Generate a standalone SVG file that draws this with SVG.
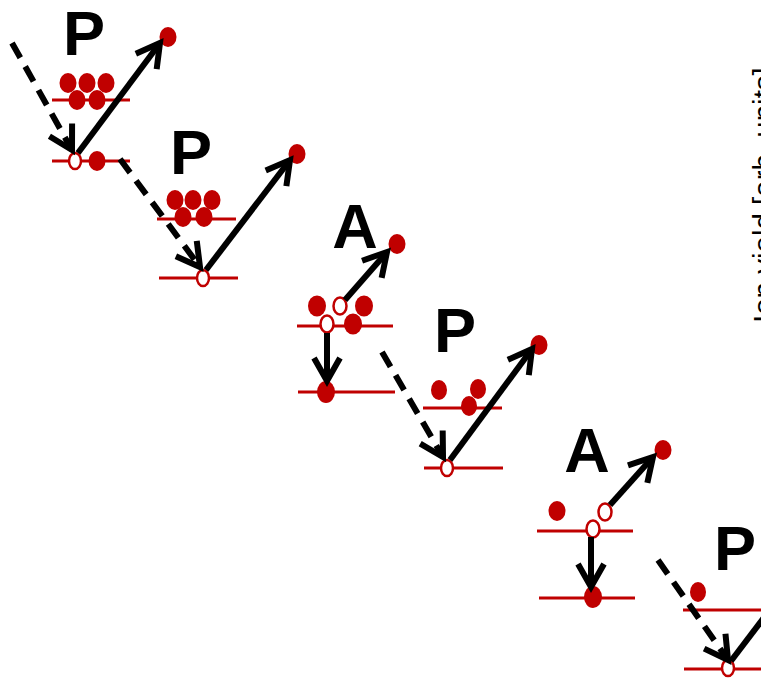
<svg xmlns="http://www.w3.org/2000/svg" width="761" height="680" viewBox="0 0 761 680">
<style>
.lvl{stroke:#c00000;stroke-width:3;fill:none}
.dot{fill:#c00000}
.hole{fill:#ffffff;stroke:#c00000;stroke-width:2.5}
.lbl{font-family:"Liberation Sans",Arial,sans-serif;font-weight:bold;font-size:63px;fill:#000;text-anchor:middle}
.arr{stroke:#000;stroke-width:6;fill:none;marker-end:url(#head)}
.dash{stroke:#000;stroke-width:6;fill:none;stroke-dasharray:17 10;marker-end:url(#head)}
.axis{font-family:"Liberation Sans",Arial,sans-serif;font-size:29.5px;fill:#000}
</style>
<defs>
<marker id="head" markerUnits="userSpaceOnUse" orient="auto" refX="0" refY="0" markerWidth="60" markerHeight="60" viewBox="-30 -30 60 60" overflow="visible">
<path d="M -23 -13 L 0 0 L -23 13" fill="none" stroke="#000" stroke-width="6" stroke-dasharray="none" stroke-linejoin="miter"/>
</marker>
</defs>
<rect width="761" height="680" fill="#ffffff"/>

<g id="step1">
<text class="lbl" x="84" y="55">P</text>
<line class="lvl" x1="52" y1="100" x2="130" y2="100"/>
<line class="lvl" x1="52" y1="161" x2="130" y2="161"/>
<ellipse class="dot" cx="68" cy="83" rx="8.5" ry="10"/>
<ellipse class="dot" cx="87" cy="83" rx="8.5" ry="10"/>
<ellipse class="dot" cx="106" cy="83" rx="8.5" ry="10"/>
<ellipse class="dot" cx="77" cy="100" rx="8.5" ry="10"/>
<ellipse class="dot" cx="97" cy="100" rx="8.5" ry="10"/>
<ellipse class="hole" cx="75" cy="161" rx="6" ry="8"/>
<ellipse class="dot" cx="97" cy="161" rx="8.5" ry="10"/>
<ellipse class="dot" cx="168" cy="37" rx="8.5" ry="10"/>
</g>

<g id="step2">
<text class="lbl" x="191" y="174">P</text>
<line class="lvl" x1="157" y1="219" x2="236" y2="219"/>
<line class="lvl" x1="159" y1="278" x2="238" y2="278"/>
<ellipse class="dot" cx="175" cy="200" rx="8.5" ry="10"/>
<ellipse class="dot" cx="193" cy="200" rx="8.5" ry="10"/>
<ellipse class="dot" cx="212" cy="200" rx="8.5" ry="10"/>
<ellipse class="dot" cx="183" cy="217" rx="8.5" ry="10"/>
<ellipse class="dot" cx="204" cy="217" rx="8.5" ry="10"/>
<ellipse class="hole" cx="203" cy="278" rx="6" ry="8"/>
<ellipse class="dot" cx="297" cy="154" rx="8.5" ry="10"/>
</g>

<g id="step3">
<text class="lbl" x="355" y="248">A</text>
<line class="lvl" x1="297" y1="326" x2="393" y2="326"/>
<line class="lvl" x1="298" y1="392" x2="395" y2="392"/>
<ellipse class="dot" cx="317" cy="306" rx="9" ry="10.5"/>
<ellipse class="dot" cx="364" cy="306" rx="9" ry="10.5"/>
<ellipse class="dot" cx="353" cy="324" rx="9" ry="10.5"/>
<ellipse class="hole" cx="340" cy="306" rx="6.5" ry="8.5"/>
<ellipse class="hole" cx="327" cy="324" rx="6.5" ry="8.5"/>
<ellipse class="dot" cx="326" cy="392" rx="9" ry="11"/>
<ellipse class="dot" cx="397" cy="244" rx="8.5" ry="10"/>
</g>

<g id="step4">
<text class="lbl" x="455" y="352">P</text>
<line class="lvl" x1="423" y1="408" x2="502" y2="408"/>
<line class="lvl" x1="424" y1="468" x2="503" y2="468"/>
<ellipse class="dot" cx="439" cy="390" rx="8" ry="10"/>
<ellipse class="dot" cx="478" cy="389" rx="8" ry="10"/>
<ellipse class="dot" cx="469" cy="406" rx="8" ry="10"/>
<ellipse class="hole" cx="447" cy="468" rx="6" ry="8"/>
<ellipse class="dot" cx="539" cy="345" rx="8.5" ry="10"/>
</g>

<g id="step5">
<text class="lbl" x="587" y="472">A</text>
<line class="lvl" x1="537" y1="531" x2="633" y2="531"/>
<line class="lvl" x1="539" y1="598" x2="635" y2="598"/>
<ellipse class="dot" cx="557" cy="511" rx="8.5" ry="10"/>
<ellipse class="hole" cx="605" cy="512" rx="6.5" ry="8.5"/>
<ellipse class="hole" cx="593" cy="529" rx="6.5" ry="8.5"/>
<ellipse class="dot" cx="593" cy="597" rx="9" ry="11"/>
<ellipse class="dot" cx="663" cy="450" rx="8.5" ry="10"/>
</g>

<g id="step6">
<text class="lbl" x="735" y="570">P</text>
<line class="lvl" x1="683" y1="610" x2="770" y2="610"/>
<line class="lvl" x1="684" y1="669" x2="770" y2="669"/>
<ellipse class="dot" cx="698" cy="592" rx="8" ry="10"/>
<ellipse class="hole" cx="728" cy="668" rx="6" ry="8"/>
</g>

<g id="connectors">
<line class="dash" x1="12" y1="43" x2="72" y2="150"/>
<line class="arr" x1="78" y1="153" x2="160" y2="43"/>
<line class="dash" x1="120" y1="159" x2="200" y2="267"/>
<line class="arr" x1="206" y1="270" x2="290" y2="160"/>
<line class="arr" x1="327" y1="333" x2="327" y2="381"/>
<line class="arr" x1="345" y1="300" x2="387" y2="252"/>
<line class="dash" x1="382" y1="352" x2="443" y2="457"/>
<line class="arr" x1="450" y1="460" x2="532" y2="349"/>
<line class="arr" x1="591" y1="537" x2="591" y2="587"/>
<line class="arr" x1="610" y1="505" x2="653" y2="457"/>
<line class="dash" x1="658" y1="560" x2="728" y2="660"/>
<line stroke="#000" stroke-width="6" x1="731" y1="661" x2="800" y2="570"/>
</g>

<text class="axis" transform="translate(774 323) rotate(-90)">Ion yield [arb. units]</text>
</svg>
